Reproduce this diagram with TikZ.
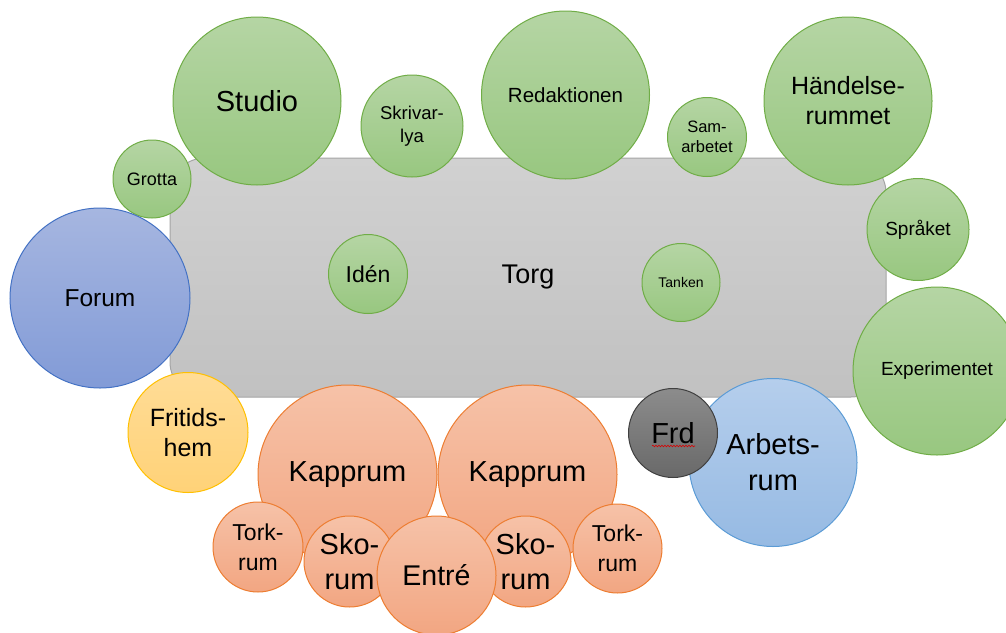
\documentclass[tikz,border=0pt]{standalone}
\usepackage{fontspec}
\setmainfont{Liberation Sans}
\usetikzlibrary{decorations.pathmorphing}

\definecolor{grTop}{RGB}{181,213,164}
\definecolor{grBot}{RGB}{152,199,128}
\definecolor{grLine}{RGB}{112,173,71}
\definecolor{toTop}{RGB}{209,209,209}
\definecolor{toBot}{RGB}{193,193,193}
\definecolor{toLine}{RGB}{165,165,165}
\definecolor{blTop}{RGB}{166,182,224}
\definecolor{blBot}{RGB}{130,155,215}
\definecolor{blLine}{RGB}{68,114,196}
\definecolor{skTop}{RGB}{181,206,236}
\definecolor{skBot}{RGB}{150,186,227}
\definecolor{skLine}{RGB}{91,155,213}
\definecolor{yeTop}{RGB}{255,220,150}
\definecolor{yeBot}{RGB}{255,210,120}
\definecolor{yeLine}{RGB}{255,192,0}
\definecolor{orTop}{RGB}{246,194,168}
\definecolor{orBot}{RGB}{242,166,130}
\definecolor{orLine}{RGB}{237,125,49}
\definecolor{fdTop}{RGB}{140,140,140}
\definecolor{fdBot}{RGB}{105,105,105}
\definecolor{fdLine}{RGB}{64,64,64}

\newcommand{\fz}[2]{\fontsize{#1}{#2}\selectfont}

\tikzset{
  bub/.style={circle, draw, line width=1pt, inner sep=0pt, align=center, minimum size=#1},
  greenbub/.style={bub=#1, draw=grLine, top color=grTop, bottom color=grBot},
  bluebub/.style={bub=#1, draw=blLine, top color=blTop, bottom color=blBot},
  skybub/.style={bub=#1, draw=skLine, top color=skTop, bottom color=skBot},
  yellowbub/.style={bub=#1, draw=yeLine, top color=yeTop, bottom color=yeBot},
  orangebub/.style={bub=#1, draw=orLine, top color=orTop, bottom color=orBot},
  graybub/.style={bub=#1, draw=fdLine, top color=fdTop, bottom color=fdBot}
}

\begin{document}
\begin{tikzpicture}[x=1pt, y=-1pt]
    \clip (0,0) rectangle (1006,632);

    % the square in the middle
    \node[draw=toLine, line width=1pt, rounded corners=35pt, top color=toTop, bottom color=toBot,
          minimum width=716pt, minimum height=239pt, font=\fz{27}{32}] (TO) at (528,277.5) {Torg};

    % green rooms round the top
    \node[greenbub=78, font=\fz{18}{22}] (GR) at (152,179) {Grotta};
    \node[greenbub=168, font=\fz{29}{35}] (ST) at (257,101) {Studio};
    \node[greenbub=102, font=\fz{18.5}{23}] (SK) at (412,126) {Skrivar-\\lya};
    \node[greenbub=168, font=\fz{20.5}{25}] (RE) at (565.5,95) {Redaktionen};
    \node[greenbub=79, font=\fz{16.5}{20}] (SA) at (707,137) {Sam-\\arbetet};
    \node[greenbub=168, font=\fz{25}{30}] (HA) at (848,101) {Händelse-\\rummet};
    \node[greenbub=102, font=\fz{19}{23}] (SP) at (918,229.5) {Språket};
    \node[greenbub=168, font=\fz{19}{23}] (EX) at (937,371) {Experimentet};

    % green rooms on the square
    \node[greenbub=79, font=\fz{23}{28}] (ID) at (368,274) {Idén};
    \node[greenbub=78, font=\fz{14}{17}] (TA) at (681,282.5) {Tanken};

    % left side
    \node[bluebub=180, font=\fz{24.5}{29}] (FO) at (100,298) {Forum};
    \node[yellowbub=120, font=\fz{25}{30}] (FH) at (188,432.5) {Fritids-\\hem};

    % entrance
    \node[orangebub=179, font=\fz{29}{35}] (K1) at (347.5,474.5) {Kapprum};
    \node[orangebub=179, font=\fz{29}{35}] (K2) at (527.5,474.5) {Kapprum};
    \node[orangebub=90, font=\fz{23}{30}] (T1) at (258,547) {Tork-\\rum};
    \node[orangebub=89, font=\fz{23}{30}] (T2) at (617.5,548.5) {Tork-\\rum};
    \node[orangebub=91, font=\fz{29}{35}] (S1) at (349.5,561.5) {Sko-\\rum};
    \node[orangebub=91, font=\fz{29}{35}] (S2) at (525.5,561.5) {Sko-\\rum};
    \node[orangebub=119, font=\fz{28.5}{34}] (EN) at (436.5,575.5) {Entré};

    % right side
    \node[skybub=168, font=\fz{29}{36}] (AR) at (773,462.5) {Arbets-\\rum};
    \node[graybub=89, font=\fz{29}{35}] (FD) at (673,433) {Frd};
    \draw[red!85!black, line width=0.6pt, decorate, decoration={snake, amplitude=0.8pt, segment length=3pt}]
        ([xshift=-21pt, yshift=-13pt]FD.center) -- ([xshift=22pt, yshift=-13pt]FD.center);
\end{tikzpicture}
\end{document}
